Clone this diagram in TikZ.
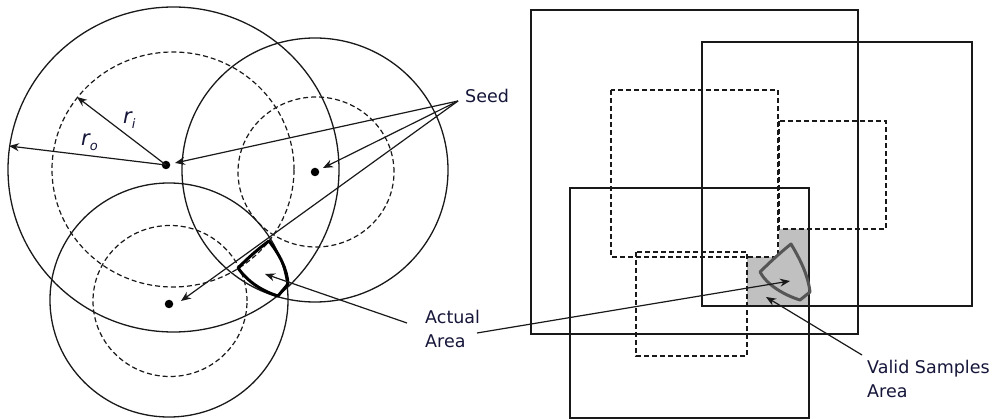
\documentclass[tikz,border=0pt]{standalone}
\usepackage{fontspec}
\setmainfont{DejaVu Sans}
\usetikzlibrary{arrows.meta}
\definecolor{lbl}{RGB}{22,22,58}
\definecolor{ln}{RGB}{25,25,25}
\definecolor{vgray}{RGB}{85,85,85}
\definecolor{fillg}{RGB}{192,192,192}
\newcommand{\radlab}[1]{{\fontsize{21}{24}\selectfont\itshape r}\raisebox{-5pt}{\fontsize{13}{14}\selectfont\itshape #1}}
\begin{document}
\begin{tikzpicture}[x=1pt,y=-1pt,
  thin line/.style={draw=ln,line width=1.3pt},
  dash line/.style={draw=ln,line width=1.2pt,dash pattern=on 5pt off 3pt},
  box line/.style={draw=ln,line width=1.5pt},
  dbox line/.style={draw=ln,line width=1.3pt,dash pattern=on 5pt off 3pt},
  arr/.style={draw=ln,line width=1.2pt,-{Stealth[length=10pt,width=8pt]}},
  seeddot/.style={circle,fill=black,inner sep=0pt,minimum size=8.5pt},
  lab/.style={text=lbl,font=\fontsize{17.5}{24}\selectfont,inner sep=0pt,align=left},
  mlab/.style={text=lbl,inner sep=0pt}]
\useasboundingbox (0,0) rectangle (995,419);
\fill[white] (0,0) rectangle (995,419);
% ---------- left panel: circles ----------
\draw[thin line] (173.5,169.5) ellipse [x radius=165.5pt, y radius=162.5pt];
\draw[dash line] (173,169.5) ellipse [x radius=121pt, y radius=117.5pt];
\draw[thin line] (315,170) ellipse [x radius=133pt, y radius=132pt];
\draw[dash line] (316,172) ellipse [x radius=78pt, y radius=75pt];
\draw[thin line] (169,300) ellipse [x radius=119pt, y radius=117pt];
\draw[dash line] (170,301) ellipse [x radius=77pt, y radius=75.5pt];
% seeds
\node[seeddot] (d1) at (166,165) {};
\node[seeddot] (d2) at (315,172) {};
\node[seeddot] (d3) at (169,304) {};
% radii
\coordinate (ri) at (77,97);
\coordinate (ro) at (9,146);
\draw[arr] (d1.center) -- (ri);
\draw[arr] (d1.center) -- (ro);
\node[mlab,anchor=base west] (rilab) at (123,124) {\radlab{i}};
\node[mlab,anchor=base west] (rolab) at (81,146) {\radlab{o}};
% actual area
\draw[draw=black,line width=3pt,line join=round]
  (238,268) .. controls (248,258) and (258,249) .. (269,241)
  .. controls (279,254) and (287,268) .. (288,284)
  -- (278,296)
  .. controls (262,291) and (248,282) .. (238,268) -- cycle;
% labels
\node[lab,anchor=base west] (seed) at (465,103) {Seed};
\coordinate (sp) at (458,101);
\coordinate (t1) at (175,163);
\coordinate (t2) at (323,168);
\coordinate (t3) at (181,301);
\draw[arr] (sp) -- (t1);
\draw[arr] (sp) -- (t2);
\draw[arr] (sp) -- (t3);
\node[lab,anchor=base west] (actual) at (425,347) {Actual\\Area};
\coordinate (aL) at (407,323);
\coordinate (aT) at (265,274);
\draw[arr] (aL) -- (aT);
% ---------- right panel ----------
\fill[fillg] (779,229) -- (809,229) -- (809,306) -- (747,306) -- (747,257) -- (779,257) -- cycle;
\draw[box line] (531,10) rectangle (858,334);
\draw[box line] (702,42) rectangle (972,306);
\draw[box line] (570,188) rectangle (809,418);
\draw[dbox line] (611,90) rectangle (778,257);
\draw[dbox line] (779,121) rectangle (886,229);
\draw[dbox line] (636,252) rectangle (747,356);
\draw[draw=vgray,line width=3pt,line join=round]
  (760,272) .. controls (770,262) and (781,252) .. (791,244)
  .. controls (800,259) and (808,275) .. (810,292)
  -- (800,300)
  .. controls (784,295) and (767,285) .. (760,272) -- cycle;
\coordinate (aR) at (477,333);
\coordinate (vT) at (790,281);
\draw[arr] (aR) -- (vT);
\node[lab,anchor=base west] (valid) at (867,397) {Valid Samples\\Area};
\coordinate (vL) at (862,355);
\coordinate (vT2) at (766,297);
\draw[arr] (vL) -- (vT2);
\end{tikzpicture}
\end{document}
